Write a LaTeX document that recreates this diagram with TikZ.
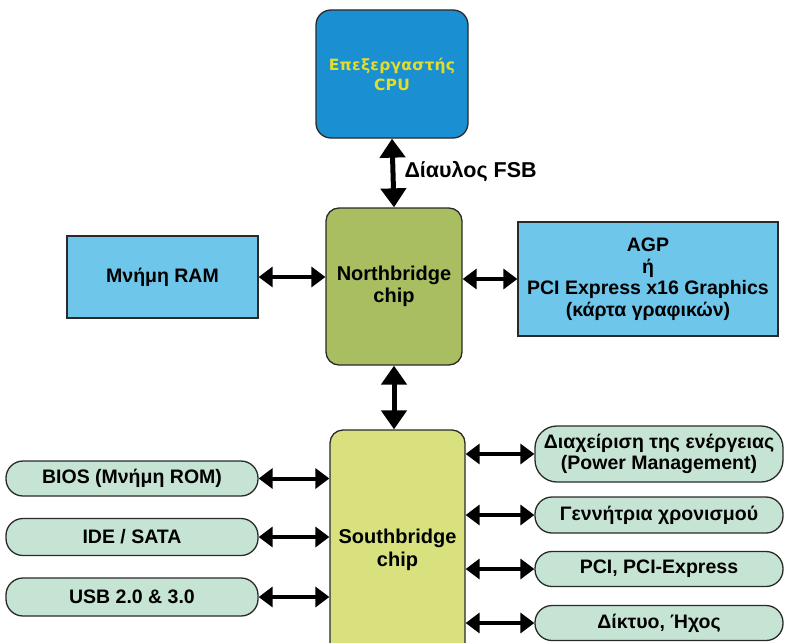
\documentclass[tikz,border=0pt]{standalone}
\usepackage{fontspec}
\setmainfont{Liberation Sans}
\newfontfamily\cpufont[LetterSpace=1.5]{DejaVu Sans}
\usetikzlibrary{arrows.meta,calc}
\definecolor{cpublue}{HTML}{1A90D2}
\definecolor{cputext}{HTML}{E2DC2A}
\definecolor{nbgreen}{HTML}{A9BE60}
\definecolor{sbyellow}{HTML}{D8E17E}
\definecolor{lightblue}{HTML}{6EC6EA}
\definecolor{pillcol}{HTML}{C6E4D4}
\definecolor{edge}{HTML}{2A2A2A}
\begin{document}
\begin{tikzpicture}[x=1pt,y=-1pt,
  chip/.style={draw=edge,line width=1.3pt,rounded corners=13pt,align=center,font=\bfseries\fontsize{20}{22.5}\selectfont,inner sep=0pt},
  sqbox/.style={draw=edge,line width=1.3pt,fill=lightblue,align=center,font=\bfseries\fontsize{19.5}{21.5}\selectfont,inner sep=0pt},
  pill/.style={draw=edge,line width=1.3pt,fill=pillcol,rounded corners=17pt,align=center,font=\bfseries\fontsize{19.5}{21}\selectfont,inner sep=0pt},
  biarrow/.style={line width=4pt,{Triangle[width=20pt,length=14pt]}-{Triangle[width=20pt,length=14pt]}},
  bigarrow/.style={line width=5pt,{Triangle[width=25pt,length=19pt]}-{Triangle[width=25pt,length=19pt]}}]
\useasboundingbox[fill=white] (0,0) rectangle (786,642);
% main chips
\node[chip,fill=cpublue,minimum width=152pt,minimum height=128pt,rounded corners=15pt,
  font=\cpufont\bfseries\fontsize{15.5}{20}\selectfont,text=cputext] (cpu) at (392,74)
  {Επεξεργαστής\\CPU};
\node[chip,fill=nbgreen,minimum width=136pt,minimum height=157pt] (nb) at (394,286.5) {Northbridge\\chip};
\node[chip,fill=sbyellow,minimum width=135pt,minimum height=240pt] (sb) at (397.5,550) {Southbridge\\chip};
\node[font=\bfseries\fontsize{21.5}{24}\selectfont,anchor=west] (fsb) at (401,172) {Δίαυλος FSB};
% side boxes
\node[sqbox,minimum width=191pt,minimum height=82pt] (ram) at (162.5,277) {Μνήμη RAM};
\node[sqbox,minimum width=260pt,minimum height=114pt] (agp) at (648,279)
  {AGP\\ή\\PCI Express x16 Graphics\\(κάρτα γραφικών)};
% left pills
\node[pill,minimum width=252pt,minimum height=35pt] (bios) at (132,478.5) {BIOS (Μνήμη ROM)};
\node[pill,minimum width=252pt,minimum height=37pt] (ide) at (132,537) {IDE / SATA};
\node[pill,minimum width=252pt,minimum height=38pt] (usb) at (132,597) {USB 2.0 \& 3.0};
% right pills
\node[pill,minimum width=248pt,minimum height=56pt,rounded corners=22pt] (pm) at (659,454) {Διαχείριση της ενέργειας\\(Power Management)};
\node[pill,minimum width=248pt,minimum height=36pt] (gen) at (659,515) {Γεννήτρια χρονισμού};
\node[pill,minimum width=248pt,minimum height=35pt] (pci) at (659,569) {PCI, PCI-Express};
\node[pill,minimum width=248pt,minimum height=35pt] (net) at (659,623) {Δίκτυο, Ήχος};
% connectors
\draw[bigarrow] (cpu.south) -- (nb.north);
\draw[bigarrow] (nb.south) -- (nb.south |- sb.north);
\draw[biarrow] (ram.east) -- (ram.east -| nb.west);
\draw[biarrow] (nb.east |- agp.west) -- (agp.west);
\draw[biarrow] (bios.east) -- (bios.east -| sb.west);
\draw[biarrow] (ide.east) -- (ide.east -| sb.west);
\draw[biarrow] (usb.east) -- (usb.east -| sb.west);
\draw[biarrow] (sb.east |- pm.west) -- (pm.west);
\draw[biarrow] (sb.east |- gen.west) -- (gen.west);
\draw[biarrow] (sb.east |- pci.west) -- (pci.west);
\draw[biarrow] (sb.east |- net.west) -- (net.west);
\end{tikzpicture}
\end{document}
